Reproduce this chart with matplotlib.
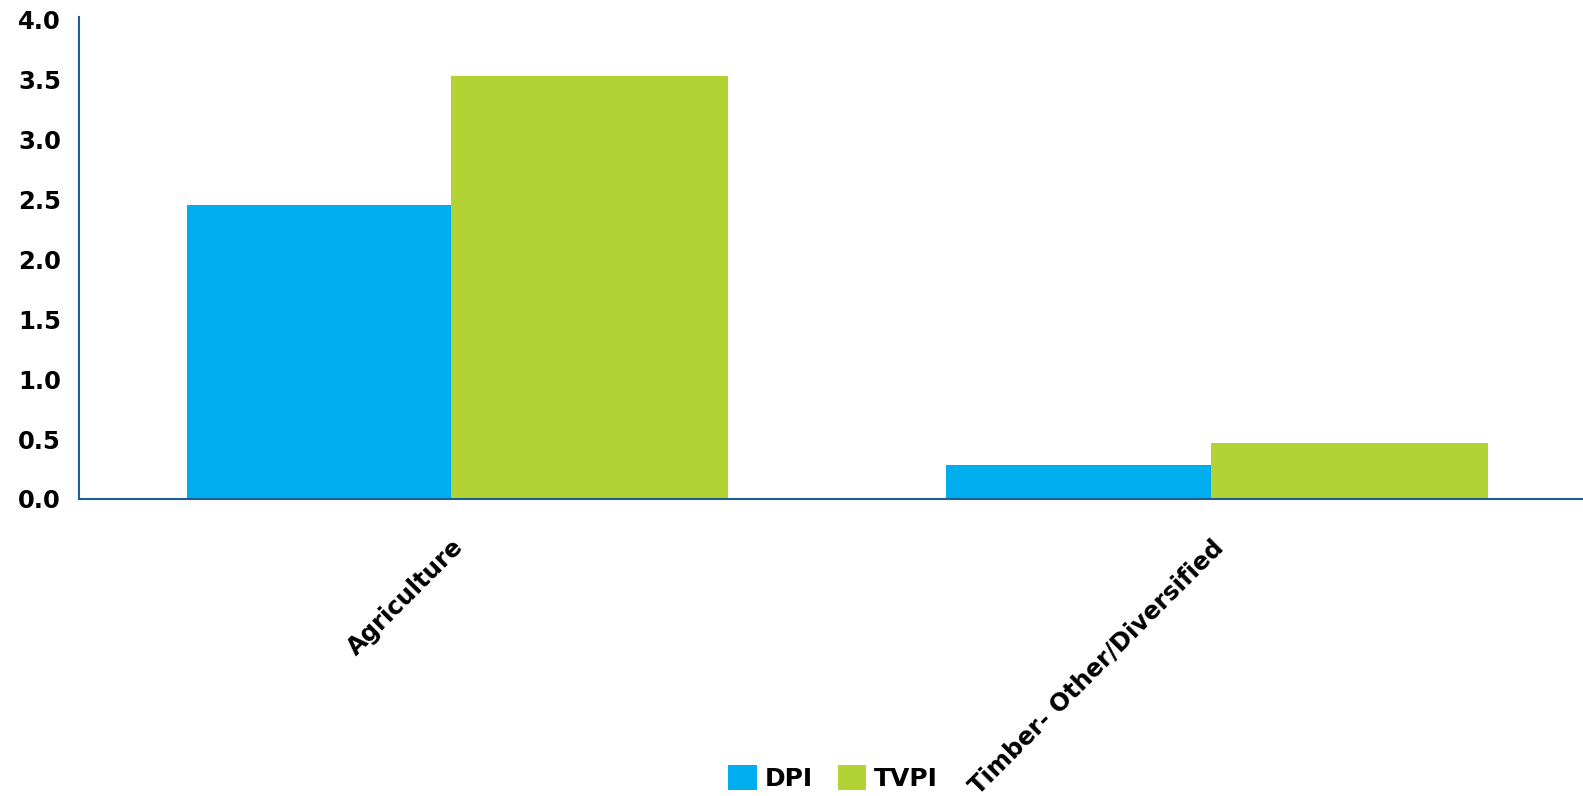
import matplotlib.pyplot as plt
import numpy as np

categories = ["Agriculture", "Timber- Other/Diversified"]
dpi_values = [2.45, 0.28]
tvpi_values = [3.53, 0.47]
series_names = ["DPI", "TVPI"]
yticks = [0.0, 0.5, 1.0, 1.5, 2.0, 2.5, 3.0, 3.5, 4.0]

blue = "#00ADEF"
green = "#B3D335"
axis_col = "#1F5E94"

plt.rcParams['font.family'] = ['DejaVu Sans']

fig = plt.figure(figsize=(15.83, 7.96), dpi=100)
ax = fig.add_axes([79 / 1583, 1 - 499 / 796, 1 - 79 / 1583, (499 - 17) / 796])

x = np.arange(len(categories))
w_dpi = 0.348
w_tvpi = 0.365
b1 = ax.bar(x - w_dpi / 2, dpi_values, w_dpi, color=blue, label=series_names[0])
b2 = ax.bar(x + w_tvpi / 2, tvpi_values, w_tvpi, color=green, label=series_names[1])

ax.set_xlim(-0.49, 1.49)
ax.set_ylim(0, 4.02)
ax.set_yticks(yticks)
ax.set_yticklabels([f"{t:.1f}" for t in yticks], fontsize=17.5, fontweight='bold')
ax.set_xticks(x)
ax.set_xticklabels(categories, fontsize=17.5, fontweight='bold',
                   rotation=45, ha='right', va='top', rotation_mode='anchor')
ax.tick_params(axis='y', length=0, pad=13)
ax.tick_params(axis='x', length=0, pad=26)

for s in ['top', 'right']:
    ax.spines[s].set_visible(False)
for s in ['left', 'bottom']:
    ax.spines[s].set_color(axis_col)
    ax.spines[s].set_linewidth(1.5)

fig.legend(handles=[b1, b2], loc='center', bbox_to_anchor=(833 / 1583, 18 / 796),
           ncol=2, frameon=False, prop={'size': 18, 'weight': 'bold'},
           handlelength=1.15, handleheight=1.15, handletextpad=0.3,
           columnspacing=1.0)

fig.savefig("out.png", dpi=100)
